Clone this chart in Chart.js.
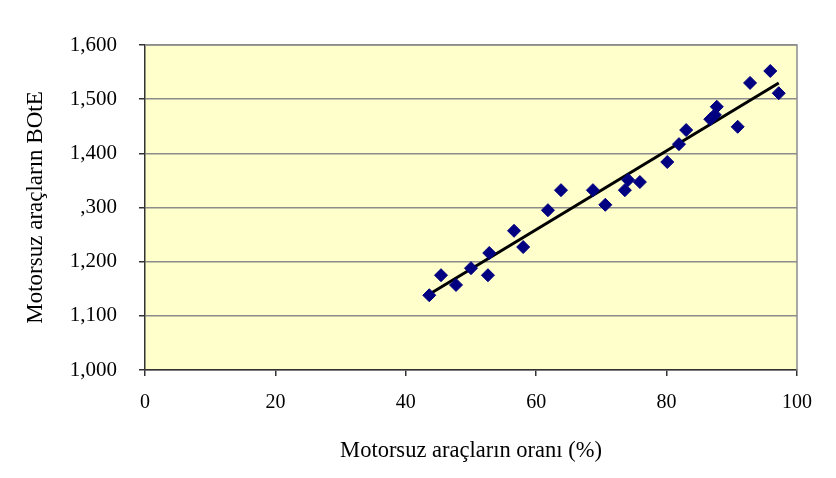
<!DOCTYPE html>
<html>
<head>
<meta charset="utf-8">
<script src="https://cdn.jsdelivr.net/npm/chart.js@4"></script>
<style>
html,body{margin:0;padding:0;background:#fff;}
#wrap{width:836px;height:478px;}
</style>
</head>
<body>
<div id="wrap"><canvas id="c" width="836" height="478"></canvas></div>
<script>
const xValues = [43.6,45.4,47.7,50.0,52.6,52.8,56.6,58.0,61.8,63.8,68.7,70.6,73.6,74.1,75.9,80.1,81.9,83.0,86.7,87.4,87.7,90.9,92.8,95.9,97.2];
const yValues = [1138,1175,1157,1188,1175,1216,1257,1227,1295,1332,1332,1305,1332,1351,1347,1384,1417,1443,1463,1471,1486,1449,1530,1552,1511];
const trendX = [43.6, 97.2];
const trendY = [1140, 1530];
const yTickValues = [1000,1100,1200,1300,1400,1500,1600];
const yTickLabels = ["1,000","1,100","1,200",",300","1,400","1,500","1,600"];
const xTickLabels = ["0","20","40","60","80","100"];
const xTitle = "Motorsuz araçların oranı (%)";
const yTitle = "Motorsuz araçların BOtE";

const font = "'Liberation Serif','Times New Roman',serif";

const bgPlugin = {
  id: 'bg',
  beforeDraw(chart) {
    const {ctx, chartArea: a} = chart;
    ctx.save();
    ctx.fillStyle = '#FFFFCC';
    ctx.fillRect(a.left, a.top, a.right - a.left, a.bottom - a.top);
    ctx.restore();
  },
  beforeDatasetsDraw(chart) {
    const {ctx, chartArea: a} = chart;
    ctx.save();
    ctx.strokeStyle = '#8c8c8c';
    ctx.lineWidth = 1.5;
    ctx.beginPath();
    ctx.moveTo(a.left, a.top);
    ctx.lineTo(a.right, a.top);
    ctx.lineTo(a.right, a.bottom);
    ctx.stroke();
    ctx.restore();
  }
};

new Chart(document.getElementById('c'), {
  type: 'scatter',
  data: {
    datasets: [
      {
        data: xValues.map((x, i) => ({x, y: yValues[i]})),
        pointStyle: 'rectRot',
        pointRadius: 6.5,
        pointHoverRadius: 6.5,
        backgroundColor: '#000080',
        borderColor: '#000080',
        borderWidth: 1
      },
      {
        type: 'line',
        data: trendX.map((x, i) => ({x, y: trendY[i]})),
        borderColor: '#000000',
        borderWidth: 3,
        pointRadius: 0,
        fill: false
      }
    ]
  },
  plugins: [bgPlugin],
  options: {
    responsive: false,
    animation: false,
    events: [],
    layout: { padding: { left: 0, right: 39, top: 45, bottom: 0 } },
    plugins: { legend: { display: false }, tooltip: { enabled: false } },
    scales: {
      x: {
        type: 'linear',
        min: 0, max: 100,
        afterFit(s) { s.height = 108; },
        afterBuildTicks(s) { s.ticks = xTickLabels.map(v => ({value: Number(v)})); },
        ticks: {
          color: '#000',
          font: { family: font, size: 20 },
          padding: 15,
          callback: (v) => xTickLabels[xTickLabels.indexOf(String(v))] ?? ''
        },
        grid: { drawOnChartArea: false, drawTicks: true, tickLength: 6, tickColor: '#333', lineWidth: 1.5 },
        border: { color: '#333', width: 1.5 },
        title: {
          display: true, text: xTitle, color: '#000',
          font: { family: font, size: 22.5 },
          padding: { top: 0, bottom: 13 }
        }
      },
      y: {
        type: 'linear',
        min: 1000, max: 1600,
        afterFit(s) { s.width = 145; },
        afterBuildTicks(s) { s.ticks = yTickValues.map(v => ({value: v})); },
        ticks: {
          color: '#000',
          font: { family: font, size: 21 },
          padding: 22,
          callback: (v) => yTickLabels[yTickValues.indexOf(v)] ?? ''
        },
        grid: { drawOnChartArea: true, color: '#8c8c8c', lineWidth: 1.5, drawTicks: true, tickLength: 6, tickColor: '#333' },
        border: { color: '#333', width: 1.5 },
        title: {
          display: true, text: yTitle, color: '#000',
          font: { family: font, size: 23 },
          padding: { top: 22, bottom: 0 }
        }
      }
    }
  }
});
</script>
</body>
</html>
